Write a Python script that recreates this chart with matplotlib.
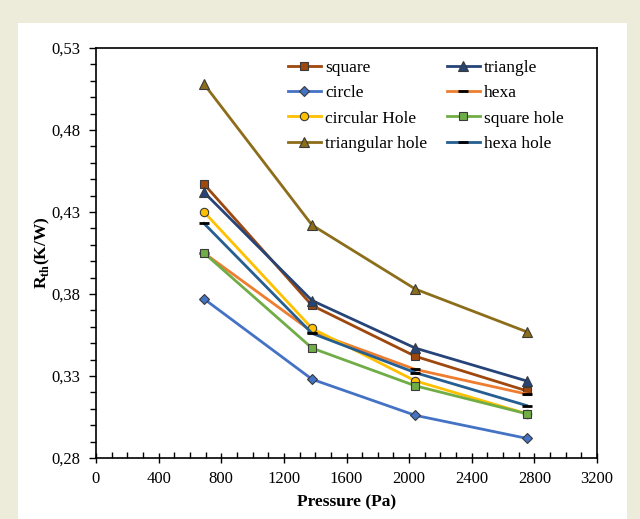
import matplotlib
matplotlib.use("Agg")
import matplotlib.pyplot as plt
from matplotlib.ticker import MultipleLocator, FuncFormatter, FixedLocator
from matplotlib.patches import Rectangle

pressure = [690, 1380, 2040, 2750]
series_names = ["square", "triangle", "circle", "hexa",
                "circular Hole", "square hole", "triangular hole", "hexa hole"]
square = [0.447, 0.373, 0.342, 0.321]
triangle = [0.442, 0.376, 0.347, 0.327]
circle = [0.377, 0.328, 0.306, 0.292]
hexa = [0.405, 0.357, 0.334, 0.319]
circular_hole = [0.430, 0.359, 0.327, 0.307]
square_hole = [0.405, 0.347, 0.324, 0.307]
triangular_hole = [0.508, 0.422, 0.383, 0.357]
hexa_hole = [0.423, 0.356, 0.332, 0.312]
y_ticks = [0.28, 0.33, 0.38, 0.43, 0.48, 0.53]

values = [square, triangle, circle, hexa, circular_hole, square_hole,
          triangular_hole, hexa_hole]
colors = ["#9E480E", "#264478", "#4472C4", "#ED7D31", "#FFC000", "#70AD47",
          "#8C6D1A", "#255E91"]
markers = ["s", "^", "D", "_", "o", "s", "^", "_"]
msizes = [6, 7, 5.5, 7, 6, 6, 7, 7]

plt.rcParams['font.family'] = ['Liberation Serif', 'DejaVu Serif']
plt.rcParams['mathtext.fontset'] = 'custom'
plt.rcParams['mathtext.rm'] = 'Liberation Serif'
plt.rcParams['mathtext.bf'] = 'Liberation Serif:bold'

fig = plt.figure(figsize=(6.4, 5.19), dpi=100)
fig.patch.set_facecolor("#EDEBD9")
fig.patches.append(Rectangle((18/640, 0), 609/640, 496/519, transform=fig.transFigure,
                             facecolor="white", edgecolor="none", zorder=-10))
ax = fig.add_axes([96/640, 61/519, 501/640, 410/519])
ax.set_zorder(5)

handles = []
for name, vals, c, m, ms in zip(series_names, values, colors, markers, msizes):
    if m == "_":
        h, = ax.plot(pressure, vals, color=c, lw=2, marker=m, ms=ms, mec="black",
                     mew=2, label=name)
    else:
        h, = ax.plot(pressure, vals, color=c, lw=2, marker=m, ms=ms, mfc=c,
                     mec="#3a3a3a", mew=0.8, label=name)
    handles.append(h)

ax.set_xlim(0, 3200)
ax.set_ylim(0.28, 0.53)
ax.xaxis.set_major_locator(MultipleLocator(400))
ax.xaxis.set_minor_locator(MultipleLocator(100))
ax.yaxis.set_major_locator(FixedLocator(y_ticks))
ax.yaxis.set_minor_locator(FixedLocator([0.28 + 0.01 * i for i in range(26)]))
ax.yaxis.set_major_formatter(FuncFormatter(lambda v, p: f"{v:.2f}".replace(".", ",")))
ax.tick_params(axis="x", which="major", direction="inout", length=7, width=1, labelsize=12, pad=6)
ax.tick_params(axis="x", which="minor", direction="in", length=4, width=1)
ax.tick_params(axis="y", which="major", direction="out", length=5, width=1, labelsize=12, pad=6)
ax.tick_params(axis="y", which="minor", direction="out", length=4, width=1)
for s in ax.spines.values():
    s.set_linewidth(1.2)
    s.set_color("black")

ax.set_xlabel("Pressure (Pa)", fontsize=12.5, fontweight="bold", labelpad=5)
ax.set_ylabel(r"R$_{\mathbf{th}}$(K/W)", fontsize=12.5, fontweight="bold", labelpad=0)

# reorder so that legend fills row-wise (2 columns)
order = [0, 2, 4, 6, 1, 3, 5, 7]
leg = ax.legend([handles[i] for i in order], [series_names[i] for i in order],
                ncol=2, loc="upper left", bbox_to_anchor=(288/640, 1 - 60/519),
                bbox_transform=fig.transFigure, frameon=False, fontsize=12.5,
                handlelength=1.9, handletextpad=0.25, columnspacing=1.1,
                labelspacing=0.52, borderaxespad=0, borderpad=0)

fig.savefig("out.png", dpi=100, facecolor=fig.get_facecolor())
